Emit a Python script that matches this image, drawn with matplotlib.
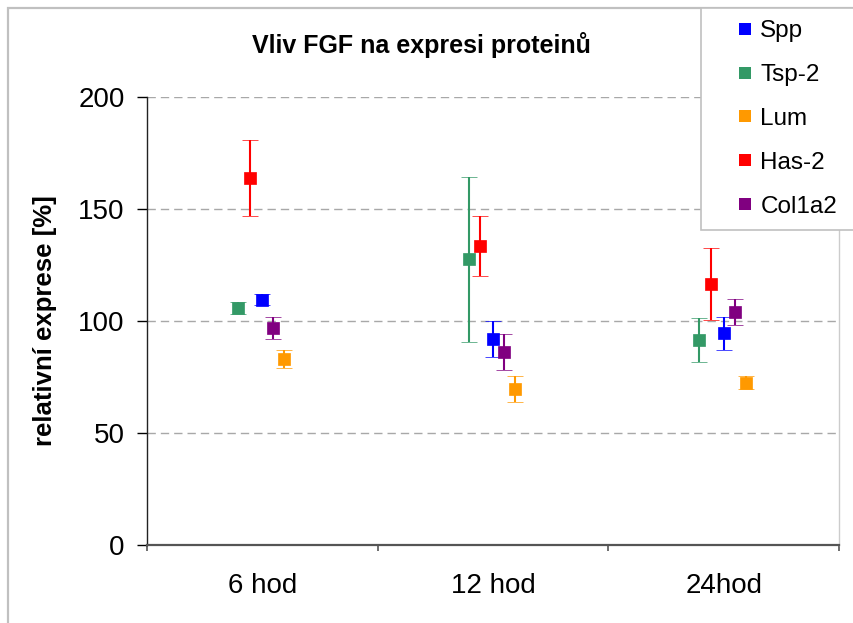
import matplotlib
matplotlib.use("Agg")
import matplotlib.pyplot as plt
from matplotlib.patches import Rectangle
from matplotlib.lines import Line2D

plt.rcParams["font.family"] = ["Liberation Sans", "DejaVu Sans"]

# data
categories = ["6 hod", "12 hod", "24hod"]
series = ["Spp", "Tsp-2", "Lum", "Has-2", "Col1a2"]
spp = [109.5, 92.0, 94.5]
spp_err = [2.5, 8.0, 7.5]
tsp2 = [105.8, 127.5, 91.5]
tsp2_err = [2.5, 37.0, 10.0]
lum = [83.0, 69.5, 72.5]
lum_err = [4.0, 5.8, 3.0]
has2 = [164.0, 133.5, 116.5]
has2_err = [17.0, 13.5, 16.0]
col1a2 = [97.0, 86.0, 104.0]
col1a2_err = [5.0, 8.0, 5.7]
y_ticks = [0, 50, 100, 150, 200]

values = [spp, tsp2, lum, has2, col1a2]
errors = [spp_err, tsp2_err, lum_err, has2_err, col1a2_err]
colors = ["#0000FF", "#339966", "#FF9900", "#FF0000", "#800080"]
# horizontal offset of each series inside a category
offsets = [0.0, -0.105, 0.095, -0.055, 0.047]

W, H = 854, 623
fig = plt.figure(figsize=(W / 100, H / 100), dpi=100)
ax = fig.add_axes([147 / W, 1 - 545 / H, (839 - 147) / W, (545 - 97) / H])

# outer chart frame (left/top visible, the rest runs off the image)
fig.patches.append(Rectangle((8 / W, -0.1), 1.2, 1 - 8 / H + 0.1, transform=fig.transFigure,
                             fill=False, edgecolor="#c0c0c0", linewidth=1.6, zorder=0))

draw_order = [1, 3, 0, 4, 2]
for i in draw_order:
    xs = [k + offsets[i] for k in range(len(categories))]
    ax.errorbar(xs, values[i], yerr=errors[i], fmt="s", color=colors[i], ecolor=colors[i],
                markersize=8.0, markeredgecolor=colors[i], markeredgewidth=0.5,
                elinewidth=1.5, capsize=5.8, capthick=1.5, zorder=3)

ax.set_xlim(-0.5, len(categories) - 0.5)
ax.set_ylim(0, 200)
ax.set_yticks(y_ticks)
ax.set_xticks(range(len(categories)))
ax.set_xticklabels(categories)
ax.set_xticks([k - 0.5 for k in range(len(categories) + 1)], minor=True)
ax.tick_params(axis="x", which="major", length=0, pad=20, labelsize=20)
ax.tick_params(axis="x", which="minor", length=4.5, width=1.2, color="#555555", direction="out")
ax.tick_params(axis="y", length=7, width=1, direction="out", pad=9, labelsize=20)

ax.yaxis.grid(True, color="#a8a8a8", linewidth=1.0, dashes=(6, 3.6))
ax.set_axisbelow(True)

ax.spines["top"].set_visible(False)
ax.spines["right"].set_color("#cccccc")
ax.spines["right"].set_linewidth(1.0)
ax.spines["left"].set_color("#222222")
ax.spines["left"].set_linewidth(1.0)
ax.spines["bottom"].set_color("#555555")
ax.spines["bottom"].set_linewidth(1.6)

ax.set_ylabel("relativní exprese [%]", fontsize=18.5, fontweight="bold", labelpad=15)
fig.text(421 / W, 1 - 45 / H, "Vliv FGF na expresi proteinů", ha="center", va="center",
         fontsize=18, fontweight="bold")

# legend box
fig.patches.append(Rectangle((701 / W, 1 - 230 / H), 0.5, (230 - 8) / H, transform=fig.transFigure,
                             facecolor="white", edgecolor="#c0c0c0", linewidth=1.2, zorder=5))
handles = [Line2D([], [], linestyle="none", marker="s", markersize=8.5, markeredgewidth=0, color=c)
           for c in colors]
leg = fig.legend(handles, series, loc="upper left", bbox_to_anchor=(721 / W, 1 - 8 / H),
                 frameon=False, fontsize=17.5, labelspacing=0.9, borderpad=0.5,
                 handlelength=1.0, handletextpad=0.12, borderaxespad=0)
leg.set_zorder(6)

fig.savefig("out.png", dpi=100)
